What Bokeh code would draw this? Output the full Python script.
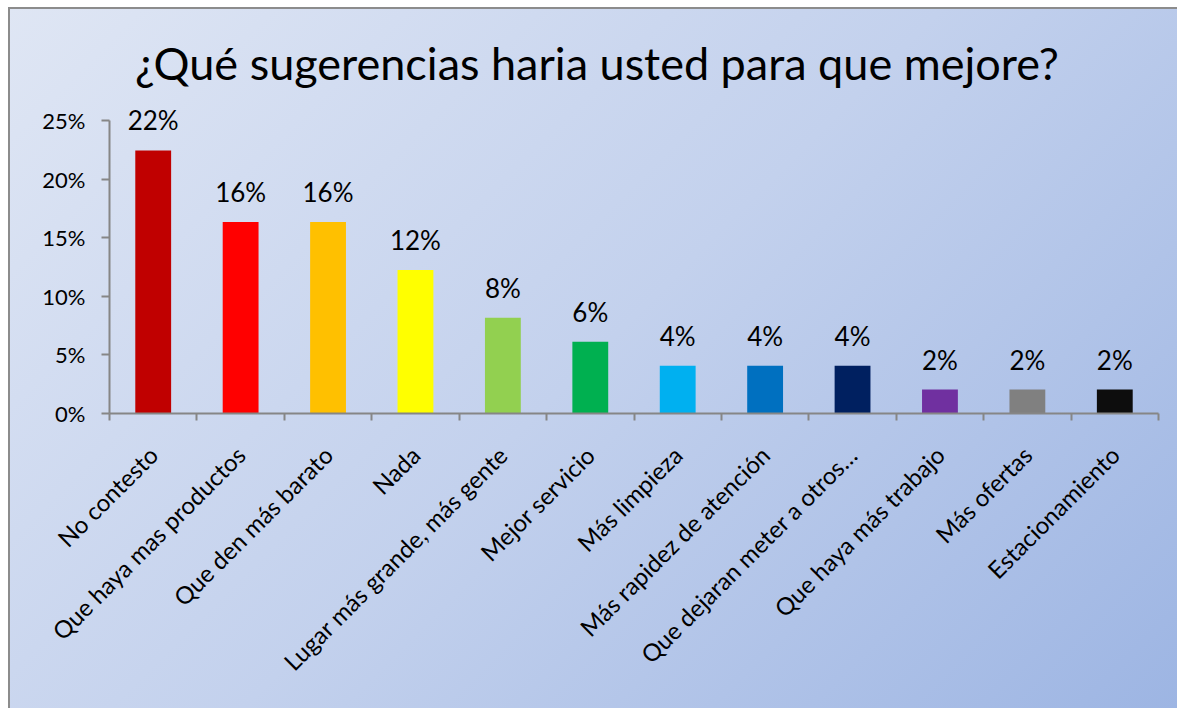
from bokeh.plotting import figure
from bokeh.models import (ColumnDataSource, FixedTicker, NumeralTickFormatter, Range1d,
                          LabelSet, Label, InlineStyleSheet)
from bokeh.embed import file_html
from bokeh.resources import INLINE
from bokeh.core.properties import value

# ---- data ----
categories = ["No contesto", "Que haya mas productos", "Que den más barato", "Nada",
              "Lugar más grande, más gente", "Mejor servicio", "Más limpieza",
              "Más rapidez de atención", "Que dejaran meter a otros…",
              "Que haya más trabajo", "Más ofertas", "Estacionamiento"]
shares = [0.2245, 0.1633, 0.1633, 0.1224, 0.0816, 0.0612, 0.0408, 0.0408, 0.0408,
          0.0204, 0.0204, 0.0204]
bar_colors = ["#C00000", "#FF0000", "#FFC000", "#FFFF00", "#92D050", "#00B050",
              "#00B0F0", "#0070C0", "#002060", "#7030A0", "#808080", "#0D0D0D"]
y_ticks = [0, 0.05, 0.10, 0.15, 0.20, 0.25]
title_text = "¿Qué sugerencias haria usted para que mejore?"

FONT = "Lato"

positions = [i + 0.5 for i in range(len(categories))]
labels = [f"{round(v * 100):d}%" for v in shares]
src = ColumnDataSource(dict(x=positions, top=shares, color=bar_colors, label=labels))

# layout: frame spans to the top of the figure; the y axis is bounded to 0..25 %
W, H = 1169, 701
FRAME_BOTTOM = 406          # px from figure top
AXIS_TOP = 113              # px from figure top where 25 % sits
y_axis_max = y_ticks[-1]
y_end = y_axis_max * FRAME_BOTTOM / (FRAME_BOTTOM - AXIS_TOP)

p = figure(width=W, height=H, output_backend="svg", toolbar_location=None,
           x_range=Range1d(0, len(categories)), y_range=Range1d(0, y_end),
           min_border_left=101, min_border_right=19, min_border_top=0,
           min_border_bottom=H - FRAME_BOTTOM)
p.stylesheets = [InlineStyleSheet(css=""":host {
  margin: 7px 0 0 8px;
  background: linear-gradient(135deg, #dfe6f4 0%, #c3d1ed 50%, #9db5e3 100%);
  box-shadow: inset 2px 2px 0 #8c8c8c;
}""")]
p.background_fill_color = None
p.border_fill_color = None
p.outline_line_color = None
p.xgrid.visible = False
p.ygrid.visible = False

p.vbar(x="x", top="top", bottom=0, width=0.41, color="color", source=src, line_color=None)

p.add_layout(LabelSet(x="x", y="top", text="label", source=src, y_offset=20,
                      text_align="center", text_baseline="alphabetic",
                      text_font=value(FONT), text_font_size="26px", text_color="#000000"))

# axes
xa = p.xaxis[0]
xa.ticker = FixedTicker(ticks=positions, minor_ticks=list(range(len(categories) + 1)))
xa.major_label_overrides = {pos: c for pos, c in zip(positions, categories)}
xa.major_label_orientation = 0.785398
xa.major_tick_line_color = None
xa.minor_tick_line_color = "#868686"
xa.minor_tick_line_width = 2
xa.minor_tick_in = 0
xa.minor_tick_out = 7
xa.axis_line_color = "#868686"
xa.axis_line_width = 2
xa.major_label_text_font = FONT
xa.major_label_text_font_size = "24px"
xa.major_label_text_color = "#000000"
xa.major_label_standoff = 30

ya = p.yaxis[0]
ya.bounds = (0, y_axis_max)
ya.ticker = FixedTicker(ticks=y_ticks)
ya.formatter = NumeralTickFormatter(format="0%")
ya.axis_line_color = "#868686"
ya.axis_line_width = 2
ya.major_tick_line_color = "#868686"
ya.major_tick_line_width = 2
ya.major_tick_in = 0
ya.major_tick_out = 8
ya.minor_tick_line_color = None
ya.major_label_text_font = FONT
ya.major_label_text_font_size = "22px"
ya.major_label_text_color = "#000000"
ya.major_label_standoff = 16

p.add_layout(Label(x=487.5, y=351, x_units="screen", y_units="screen", text=title_text,
                   text_align="center", text_baseline="alphabetic",
                   text_font=FONT, text_font_size="45px", text_color="#000000"))

open("out.html", "w").write(file_html(p, INLINE))
